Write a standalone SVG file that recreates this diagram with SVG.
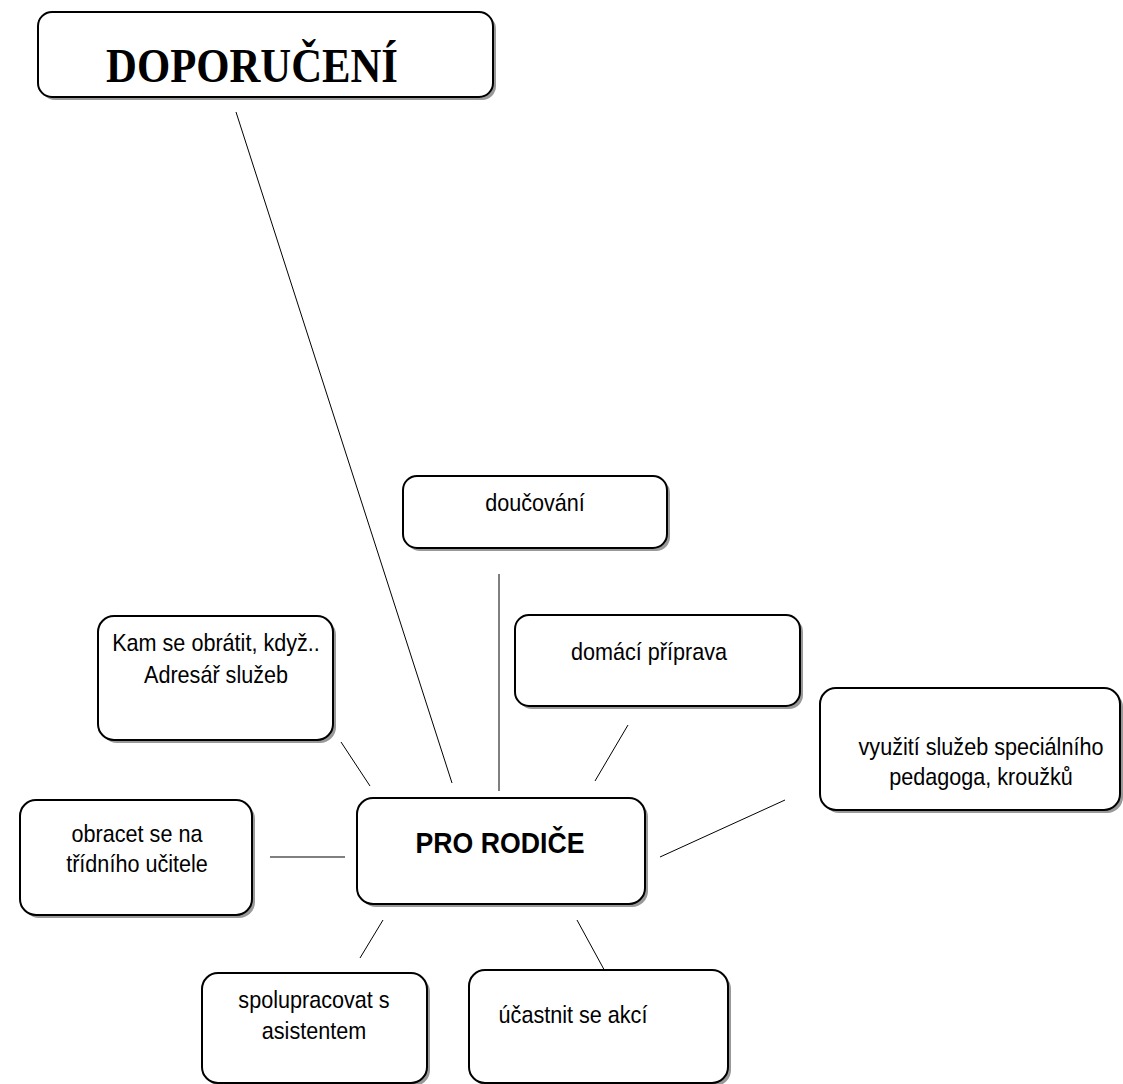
<svg xmlns="http://www.w3.org/2000/svg" width="1123" height="1084" viewBox="0 0 1123 1084">
<style>
.box{fill:#fff;stroke:#000;stroke-width:2}
.shadow{fill:#999}
.t{font-family:"Liberation Sans",Arial,sans-serif;font-size:24px;text-anchor:middle;fill:#000}
.tb{font-family:"Liberation Sans",Arial,sans-serif;font-size:29px;font-weight:bold;text-anchor:middle;fill:#000}
.title{font-family:"Liberation Serif","Times New Roman",serif;font-size:48px;font-weight:bold;text-anchor:middle;fill:#000}
.c{stroke:#000;stroke-width:1;fill:none}
</style>
<rect width="1123" height="1084" fill="#fff"/>
<g id="connectors">
<line class="c" x1="236" y1="112" x2="452" y2="783"/>
<line class="c" x1="499" y1="574" x2="499" y2="791"/>
<line class="c" x1="628" y1="725" x2="595" y2="781"/>
<line class="c" x1="785" y1="800" x2="660" y2="857"/>
<line class="c" x1="341" y1="742" x2="370" y2="786"/>
<line class="c" x1="270" y1="857" x2="345" y2="857"/>
<line class="c" x1="383" y1="920" x2="360" y2="958"/>
<line class="c" x1="577" y1="920" x2="607" y2="975"/>
</g>
<g id="doporuceni">
<rect class="shadow" x="41" y="15" width="455" height="85" rx="14"/>
<rect class="box" x="38" y="12" width="455" height="85" rx="14"/>
<text class="title" transform="translate(252,82) scale(0.89,1)">DOPORUČENÍ</text>
</g>
<g id="doucovani">
<rect class="shadow" x="406" y="479" width="264" height="72" rx="14"/>
<rect class="box" x="403" y="476" width="264" height="72" rx="14"/>
<text class="t" transform="translate(535,511) scale(0.9,1)">doučování</text>
</g>
<g id="domaci">
<rect class="shadow" x="518" y="618" width="285" height="91" rx="14"/>
<rect class="box" x="515" y="615" width="285" height="91" rx="14"/>
<text class="t" transform="translate(649,660) scale(0.9,1)">domácí příprava</text>
</g>
<g id="vyuziti">
<rect class="shadow" x="823" y="691" width="300" height="122" rx="16"/>
<rect class="box" x="820" y="688" width="300" height="122" rx="16"/>
<text class="t" transform="translate(981,755) scale(0.9,1)">využití služeb speciálního</text>
<text class="t" transform="translate(981,785) scale(0.9,1)">pedagoga, kroužků</text>
</g>
<g id="kam">
<rect class="shadow" x="101" y="619" width="235" height="124" rx="16"/>
<rect class="box" x="98" y="616" width="235" height="124" rx="16"/>
<text class="t" transform="translate(216,651) scale(0.9,1)">Kam se obrátit, když..</text>
<text class="t" transform="translate(216,683) scale(0.9,1)">Adresář služeb</text>
</g>
<g id="obracet">
<rect class="shadow" x="23" y="803" width="232" height="115" rx="16"/>
<rect class="box" x="20" y="800" width="232" height="115" rx="16"/>
<text class="t" transform="translate(137,842) scale(0.9,1)">obracet se na</text>
<text class="t" transform="translate(137,872) scale(0.9,1)">třídního učitele</text>
</g>
<g id="pro-rodice">
<rect class="shadow" x="360" y="801" width="288" height="106" rx="16"/>
<rect class="box" x="357" y="798" width="288" height="106" rx="16"/>
<text class="tb" transform="translate(500,853) scale(0.92,1)">PRO RODIČE</text>
</g>
<g id="spolupracovat">
<rect class="shadow" x="205" y="976" width="225" height="110" rx="16"/>
<rect class="box" x="202" y="973" width="225" height="110" rx="16"/>
<text class="t" transform="translate(314,1008) scale(0.9,1)">spolupracovat s</text>
<text class="t" transform="translate(314,1039) scale(0.9,1)">asistentem</text>
</g>
<g id="ucastnit">
<rect class="shadow" x="472" y="973" width="259" height="113" rx="16"/>
<rect class="box" x="469" y="970" width="259" height="113" rx="16"/>
<text class="t" transform="translate(573,1023) scale(0.9,1)">účastnit se akcí</text>
</g>
</svg>
